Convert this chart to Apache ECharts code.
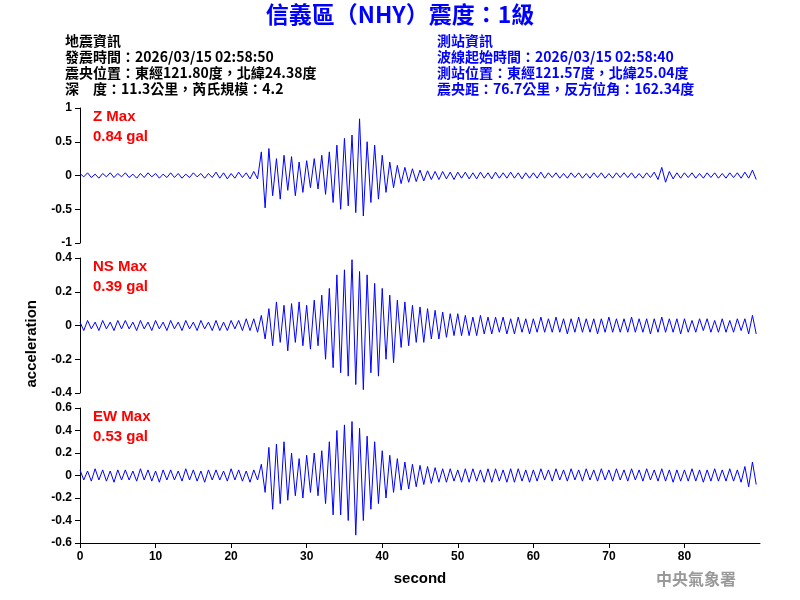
<!DOCTYPE html>
<html>
<head>
<meta charset="utf-8">
<script src="https://cdn.jsdelivr.net/npm/echarts@6/dist/echarts.min.js"></script>
<style>html,body{margin:0;padding:0;background:#fff}#main{width:800px;height:600px}</style>
</head>
<body>
<div id="main"></div>
<script>
// 時間步長 0.5 秒, 從 0 秒開始
const dt = 0.5
const xTicks = [0, 10, 20, 30, 40, 50, 60, 70, 80]
const zTicks = [-1, -0.5, 0, 0.5, 1]
const nsTicks = [-0.4, -0.2, 0, 0.2, 0.4]
const ewTicks = [-0.6, -0.4, -0.2, 0, 0.2, 0.4, 0.6]

const zData = [
  0.03,-0.02,0.04,-0.03,0.02,-0.04,0.03,-0.02,0.04,-0.03,0.03,-0.02,0.04,-0.03,0.02,-0.04,0.03,-0.03,0.04,-0.02,0.03,-0.04,0.02,-0.03,
  0.04,-0.03,0.03,-0.04,0.02,-0.03,0.04,-0.02,0.03,-0.04,0.03,-0.03,0.05,-0.04,0.04,-0.05,0.03,-0.04,0.05,-0.03,0.04,-0.05,0.06,-0.05,
  0.35,-0.48,0.4,-0.3,0.25,-0.35,0.3,-0.22,0.28,-0.3,0.2,-0.25,
  0.22,-0.18,0.25,-0.2,0.3,-0.28,0.35,-0.4,0.45,-0.5,0.55,-0.45,
  0.6,-0.55,0.84,-0.6,0.5,-0.4,0.45,-0.35,0.3,-0.25,0.2,-0.18,
  0.15,-0.12,0.12,-0.1,0.1,-0.09,0.08,-0.08,0.07,-0.06,0.06,-0.06,
  0.06,-0.05,0.05,-0.06,0.05,-0.04,0.05,-0.05,0.04,-0.05,0.05,-0.04,0.04,-0.05,0.05,-0.04,0.04,-0.04,0.05,-0.04,0.04,-0.05,0.04,-0.04,
  0.04,-0.04,0.05,-0.04,0.04,-0.03,0.04,-0.04,0.03,-0.04,0.04,-0.03,0.04,-0.04,0.03,-0.04,0.04,-0.03,0.04,-0.04,0.03,-0.04,0.04,-0.03,0.04,-0.03,0.04,-0.04,0.03,-0.04,0.04,-0.03,
  0.05,-0.06,0.12,-0.1,0.06,-0.05,0.04,-0.04,
  0.04,-0.03,0.04,-0.04,0.03,-0.04,0.04,-0.03,0.04,-0.04,0.03,-0.04,0.04,-0.03,0.04,-0.04,0.05,-0.04,0.08,-0.06
]
const nsData = [
  0.02,-0.03,0.03,-0.02,0.02,-0.03,0.03,-0.02,0.02,-0.03,0.03,-0.02,0.03,-0.02,0.02,-0.03,0.03,-0.02,0.02,-0.03,0.03,-0.02,0.02,-0.03,
  0.03,-0.02,0.02,-0.03,0.03,-0.02,0.02,-0.03,0.03,-0.02,0.02,-0.03,0.03,-0.03,0.02,-0.03,0.03,-0.02,0.03,-0.03,0.04,-0.03,0.04,-0.04,
  0.06,-0.08,0.1,-0.12,0.14,-0.1,0.12,-0.15,0.13,-0.1,0.14,-0.12,
  0.12,-0.14,0.15,-0.12,0.18,-0.2,0.22,-0.25,0.3,-0.28,0.33,-0.3,
  0.39,-0.35,0.32,-0.38,0.3,-0.28,0.25,-0.3,0.22,-0.2,0.18,-0.22,
  0.15,-0.13,0.14,-0.12,0.12,-0.1,0.11,-0.1,0.1,-0.08,0.09,-0.08,
  0.08,-0.07,0.07,-0.06,0.07,-0.06,0.06,-0.06,0.05,-0.06,0.06,-0.05,0.05,-0.05,0.05,-0.04,0.05,-0.05,0.04,-0.05,0.05,-0.04,0.04,-0.05,
  0.04,-0.04,0.05,-0.04,0.04,-0.04,0.05,-0.04,0.04,-0.05,0.04,-0.04,0.05,-0.04,0.04,-0.04,0.04,-0.05,0.04,-0.04,0.05,-0.04,0.04,-0.04,0.04,-0.04,0.05,-0.04,0.04,-0.04,0.04,-0.05,
  0.04,-0.04,0.05,-0.04,0.04,-0.04,0.04,-0.05,
  0.04,-0.04,0.03,-0.04,0.04,-0.03,0.04,-0.04,0.03,-0.04,0.04,-0.04,0.03,-0.04,0.04,-0.03,0.04,-0.05,0.06,-0.05
]
const ewData = [
  0.05,-0.04,0.04,-0.05,0.06,-0.04,0.05,-0.05,0.04,-0.06,0.05,-0.04,
  0.05,-0.04,0.04,-0.05,0.06,-0.04,0.05,-0.05,0.04,-0.06,0.05,-0.04,
  0.05,-0.04,0.04,-0.05,0.06,-0.04,0.05,-0.05,0.04,-0.06,0.05,-0.04,
  0.05,-0.04,0.04,-0.05,0.06,-0.04,0.05,-0.05,0.04,-0.06,0.05,-0.04,
  0.1,-0.15,0.25,-0.3,0.28,-0.25,0.3,-0.22,0.2,-0.18,0.15,-0.2,
  0.18,-0.15,0.2,-0.18,0.22,-0.25,0.3,-0.35,0.4,-0.35,0.45,-0.4,
  0.48,-0.53,0.42,-0.4,0.35,-0.3,0.3,-0.25,0.22,-0.2,0.18,-0.15,
  0.15,-0.13,0.12,-0.12,0.1,-0.1,0.09,-0.08,0.08,-0.07,0.07,-0.06,
  0.06,-0.06,0.06,-0.05,0.05,-0.06,0.06,-0.06,0.06,-0.05,0.05,-0.06,0.06,-0.06,0.06,-0.05,0.05,-0.06,0.06,-0.06,0.06,-0.05,0.05,-0.06,
  0.05,-0.05,0.06,-0.04,0.05,-0.05,0.06,-0.04,0.05,-0.05,0.06,-0.04,0.05,-0.05,0.06,-0.04,0.05,-0.05,0.06,-0.04,0.05,-0.05,0.06,-0.04,0.05,-0.05,0.06,-0.04,0.05,-0.05,0.06,-0.04,
  0.05,-0.05,0.06,-0.05,0.05,-0.06,0.05,-0.05,
  0.05,-0.05,0.06,-0.05,0.05,-0.06,0.05,-0.05,0.06,-0.05,0.05,-0.05,0.06,-0.05,0.05,-0.06,0.08,-0.1,0.12,-0.08
]

const channels = [
  { name: 'Z Max', peak: '0.84 gal', data: zData, ticks: zTicks, top: 108 },
  { name: 'NS Max', peak: '0.39 gal', data: nsData, ticks: nsTicks, top: 258 },
  { name: 'EW Max', peak: '0.53 gal', data: ewData, ticks: ewTicks, top: 408 }
]

const font = 'Arial, "Liberation Sans", sans-serif'
const cjk = '"Noto Sans CJK TC", sans-serif'
const chart = echarts.init(document.getElementById('main'))

const grids = [], xAxes = [], yAxes = [], series = []
channels.forEach((c, i) => {
  const last = i === channels.length - 1
  grids.push({ left: 80, right: 40, top: c.top, height: 135 })
  xAxes.push({
    gridIndex: i, type: 'value', min: xTicks[0], max: 90, interval: 10,
    show: last,
    axisLine: { onZero: false, lineStyle: { color: '#000' } },
    axisTick: { lineStyle: { color: '#000' } },
    splitLine: { show: false },
    axisLabel: { color: '#000', fontSize: 12, fontWeight: 'bold', fontFamily: font, showMaxLabel: false },
    name: last ? 'second' : '', nameLocation: 'middle', nameGap: 28,
    nameTextStyle: { color: '#000', fontSize: 15, fontWeight: 'bold', fontFamily: font }
  })
  yAxes.push({
    gridIndex: i, type: 'value', min: c.ticks[0], max: c.ticks[c.ticks.length - 1],
    interval: c.ticks[1] - c.ticks[0],
    axisLine: { show: true, lineStyle: { color: '#000' } },
    axisTick: { show: true, lineStyle: { color: '#000' } },
    splitLine: { show: false },
    axisLabel: { color: '#000', fontSize: 12, fontWeight: 'bold', fontFamily: font, formatter: v => String(+v.toFixed(2)) }
  })
  series.push({
    type: 'line', xAxisIndex: i, yAxisIndex: i, symbol: 'none', silent: true,
    lineStyle: { color: '#0000ff', width: 1 },
    data: c.data.map((v, k) => [k * dt, v])
  })
})

const info = (x, y, text, color) => ({
  type: 'text', left: x, top: y,
  style: { text, fill: color, font: 'bold 14px ' + cjk }
})

const graphic = [
  { type: 'text', left: 'center', top: 3,
    style: { text: '信義區（NHY）震度：1級', fill: '#0000ff', font: 'bold 23px ' + cjk } },
  info(65, 34, '地震資訊', '#000'),
  info(65, 50, '發震時間：2026/03/15 02:58:50', '#000'),
  info(65, 66, '震央位置：東經121.80度，北緯24.38度', '#000'),
  info(65, 82, '深　度：11.3公里，芮氏規模：4.2', '#000'),
  info(437, 34, '測站資訊', '#0000ff'),
  info(437, 50, '波線起始時間：2026/03/15 02:58:40', '#0000ff'),
  info(437, 66, '測站位置：東經121.57度，北緯25.04度', '#0000ff'),
  info(437, 82, '震央距：76.7公里，反方位角：162.34度', '#0000ff'),
  { type: 'text', left: 24, top: 300, rotation: Math.PI / 2, originX: 0, originY: 0,
    style: { text: 'acceleration', fill: '#000', font: 'bold 15px ' + font, align: 'center', verticalAlign: 'middle' } },
  { type: 'text', left: 656, top: 571,
    style: { text: '中央氣象署', fill: '#999', font: 'bold 16px ' + cjk } }
]
channels.forEach(c => {
  graphic.push({ type: 'text', left: 93, top: c.top + 1,
    style: { text: c.name, fill: '#ff0000', font: 'bold 15px ' + font } })
  graphic.push({ type: 'text', left: 93, top: c.top + 21,
    style: { text: c.peak, fill: '#ff0000', font: 'bold 15px ' + font } })
})

chart.setOption({
  animation: false,
  grid: grids, xAxis: xAxes, yAxis: yAxes, series, graphic
})
</script>
</body>
</html>
